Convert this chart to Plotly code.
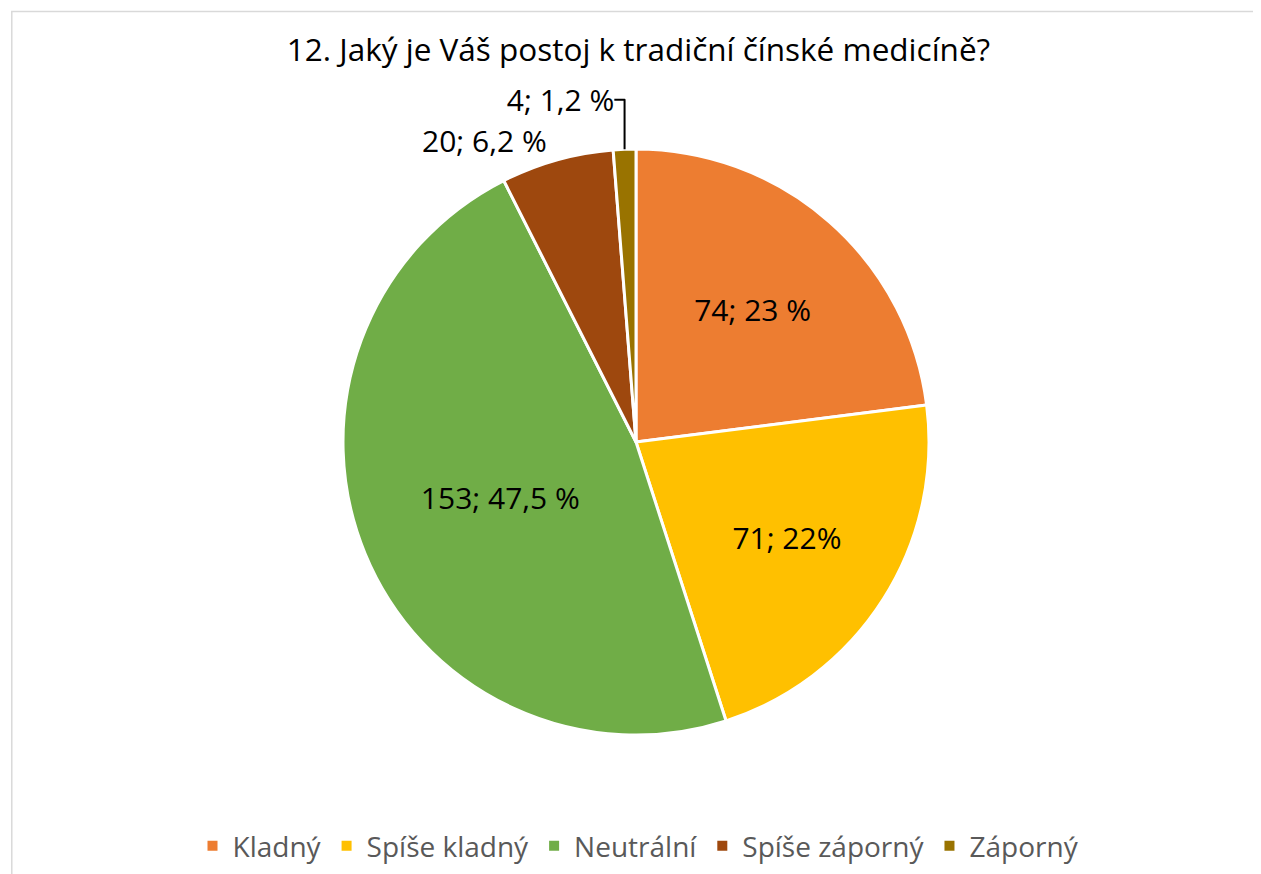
import plotly.graph_objects as go

categories = ["Kladný", "Spíše kladný", "Neutrální", "Spíše záporný", "Záporný"]
values = [74, 71, 153, 20, 4]
label_text = ["74; 23 %", "71; 22%", "153; 47,5 %", "20; 6,2 %", "4; 1,2 %"]
colors = ["#ED7D31", "#FFC000", "#70AD47", "#9E480E", "#997300"]
text_pos = ["inside", "inside", "inside", "outside", "outside"]

W, H = 1261, 874
cx, cy, r = 628, 434, 293

FONT = "Open Sans, Liberation Sans, sans-serif"

fig = go.Figure(go.Pie(
    labels=categories,
    values=values,
    text=label_text,
    textinfo="text",
    textposition=text_pos,
    insidetextorientation="horizontal",
    sort=False,
    direction="clockwise",
    rotation=0,
    marker=dict(colors=colors, line=dict(color="white", width=3)),
    textfont=dict(family=FONT, size=30, color="black"),
    domain=dict(x=[(cx - r) / W, (cx + r) / W], y=[1 - (cy + r) / H, 1 - (cy - r) / H]),
    hoverinfo="label+value",
))

fig.update_layout(
    width=W, height=H,
    margin=dict(l=0, r=0, t=0, b=0),
    paper_bgcolor="white",
    title=dict(text="12. Jaký je Váš postoj k tradiční čínské medicíně?",
               x=0.5, xanchor="center", y=1 - 42 / H, yanchor="middle",
               font=dict(family=FONT, size=31.5, color="black")),
    legend=dict(orientation="h", x=0.5, xanchor="center", y=1 - 838 / H, yanchor="middle",
                font=dict(family=FONT, size=28, color="#595959"),
                itemsizing="constant"),
    shapes=[dict(type="rect", xref="paper", yref="paper", x0=0.003, x1=0.997, y0=-0.01, y1=0.996,
                 line=dict(color="#D9D9D9", width=1.5))],
)

fig.write_html("out.html")
